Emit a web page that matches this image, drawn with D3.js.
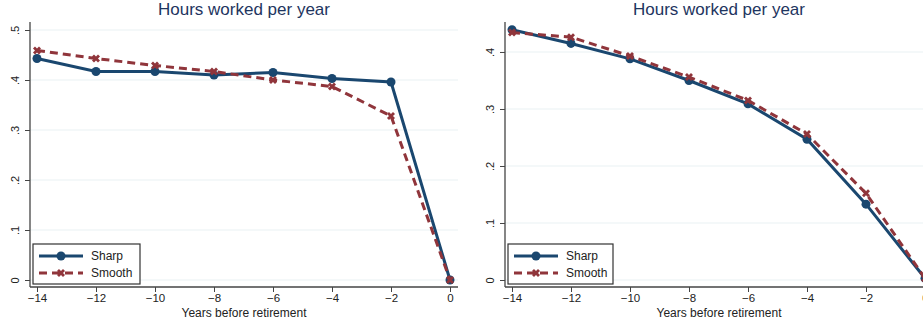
<!DOCTYPE html>
<html>
<head>
<meta charset="utf-8">
<script src="https://cdn.jsdelivr.net/npm/d3@7"></script>
<style>
  body { margin: 0; background: #fff; }
  svg { display: block; font-family: "Liberation Sans", Arial, sans-serif; }
</style>
</head>
<body>
<div id="chart"></div>
<script>
(function() {
    var width = 923,
        height = 324;

    var years = [-14, -12, -10, -8, -6, -4, -2, 0];
    var xTicks = [-14, -12, -10, -8, -6, -4, -2, 0];

    // left panel
    var sharpLeft  = [0.443, 0.417, 0.417, 0.410, 0.415, 0.403, 0.396, 0.0];
    var smoothLeft = [0.459, 0.443, 0.429, 0.417, 0.400, 0.387, 0.328, 0.0];
    var yTicksLeft = [0, 0.1, 0.2, 0.3, 0.4, 0.5];

    // right panel
    var sharpRight  = [0.439, 0.415, 0.388, 0.350, 0.309, 0.247, 0.133, 0.003];
    var smoothRight = [0.434, 0.426, 0.393, 0.356, 0.315, 0.256, 0.152, 0.003];
    var yTicksRight = [0, 0.1, 0.2, 0.3, 0.4];

    var navy = "#1a476f",
        maroon = "#90353b";

    var svg = d3.select("#chart")
        .append("svg")
        .attr("width", width)
        .attr("height", height)

    function fmt(v) {
        if (v === 0) return "0"
        return d3.format(".1f")(v).replace(/^0/, "")
    }

    function panel(opts) {
        var g = svg.append("g")

        var x = d3.scaleLinear().domain([-14, 0]).range([opts.x0, opts.x0 + 413])
        var y = d3.scaleLinear().domain([0, opts.yTop]).range([280, opts.yTopPx])

        var axisX = opts.axisX,
            right = opts.axisX + 428,
            base = 287

        // gridlines
        g.selectAll(".grid")
            .data(opts.yTicks)
            .enter().append("line")
            .attr("x1", axisX).attr("x2", right)
            .attr("y1", function(d) { return y(d) })
            .attr("y2", function(d) { return y(d) })
            .attr("stroke", "#eaf2f3")
            .attr("stroke-width", 1.2)

        // y axis
        var yAxis = d3.axisLeft(y).tickValues(opts.yTicks).tickFormat(fmt).tickSize(5).tickPadding(4)
        var ya = g.append("g")
            .attr("transform", "translate(" + axisX + ",0)")
            .call(yAxis)
        ya.select(".domain").attr("d", "M0,22V" + base).attr("stroke", "#444").attr("stroke-width", 1.3)
        ya.selectAll(".tick line").attr("stroke", "#444")
        ya.selectAll(".tick text")
            .attr("font-size", 11)
            .attr("fill", "#222")
            .attr("transform", "rotate(-90)")
            .attr("text-anchor", "middle")
            .attr("x", 0)
            .attr("dy", 0)
            .attr("y", -11)

        // x axis
        var xAxis = d3.axisBottom(x).tickValues(xTicks).tickSize(5).tickPadding(2)
            .tickFormat(function(d) { return d < 0 ? "\u2212" + Math.abs(d) : d })
        var xa = g.append("g")
            .attr("transform", "translate(0," + base + ")")
            .call(xAxis)
        xa.select(".domain").attr("d", "M" + axisX + ",0H" + right).attr("stroke", "#444").attr("stroke-width", 1.3)
        xa.selectAll(".tick line").attr("stroke", "#444")
        xa.selectAll(".tick text").attr("font-size", 11.5).attr("fill", "#222")

        g.append("text")
            .attr("x", (axisX + right) / 2)
            .attr("y", 317)
            .attr("text-anchor", "middle")
            .attr("font-size", 12)
            .attr("fill", "#222")
            .text("Years before retirement")

        g.append("text")
            .attr("x", (axisX + right) / 2)
            .attr("y", 15)
            .attr("text-anchor", "middle")
            .attr("font-size", 17)
            .attr("fill", "#1e3560")
            .text("Hours worked per year")

        var line = d3.line()
            .x(function(d) { return x(d.year) })
            .y(function(d) { return y(d.v) })

        var sharp = years.map(function(yr, i) { return {year: yr, v: opts.sharp[i]} })
        var smooth = years.map(function(yr, i) { return {year: yr, v: opts.smooth[i]} })

        g.append("path")
            .datum(sharp)
            .attr("d", line)
            .attr("fill", "none")
            .attr("stroke", navy)
            .attr("stroke-width", 3)

        g.selectAll(".sharp")
            .data(sharp)
            .enter().append("circle")
            .attr("class", "sharp")
            .attr("cx", function(d) { return x(d.year) })
            .attr("cy", function(d) { return y(d.v) })
            .attr("r", 4.5)
            .attr("fill", navy)

        g.append("path")
            .datum(smooth)
            .attr("d", line)
            .attr("fill", "none")
            .attr("stroke", maroon)
            .attr("stroke-width", 3)
            .attr("stroke-dasharray", "8,5")

        var cross = d3.symbol().type(d3.symbolCross).size(40)
        g.selectAll(".smooth")
            .data(smooth)
            .enter().append("path")
            .attr("class", "smooth")
            .attr("d", cross)
            .attr("transform", function(d) {
                return "translate(" + x(d.year) + "," + y(d.v) + ") rotate(45)"
            })
            .attr("fill", maroon)

        // legend
        var lg = g.append("g").attr("transform", "translate(" + (axisX + 3) + ",244)")
        lg.append("rect")
            .attr("width", opts.legendW).attr("height", 40)
            .attr("fill", "#fff")
            .attr("stroke", "#333")
            .attr("stroke-width", 1.2)
        lg.append("line")
            .attr("x1", 6).attr("x2", 50).attr("y1", 12).attr("y2", 12)
            .attr("stroke", navy).attr("stroke-width", 3)
        lg.append("circle").attr("cx", 28).attr("cy", 12).attr("r", 4.5).attr("fill", navy)
        lg.append("line")
            .attr("x1", 6).attr("x2", 50).attr("y1", 29).attr("y2", 29)
            .attr("stroke", maroon).attr("stroke-width", 3)
            .attr("stroke-dasharray", "8,5")
        lg.append("path").attr("d", cross)
            .attr("transform", "translate(28,29) rotate(45)")
            .attr("fill", maroon)
        lg.append("text").attr("x", 58).attr("y", 16).attr("font-size", 12).attr("fill", "#222").text("Sharp")
        lg.append("text").attr("x", 58).attr("y", 33).attr("font-size", 12).attr("fill", "#222").text("Smooth")
    }

    panel({axisX: 30, x0: 37, yTop: 0.516, yTopPx: 22, yTicks: yTicksLeft,
           sharp: sharpLeft, smooth: smoothLeft, legendW: 107})
    panel({axisX: 505, x0: 512, yTop: 0.4526, yTopPx: 22, yTicks: yTicksRight,
           sharp: sharpRight, smooth: smoothRight, legendW: 105})
})();
</script>
</body>
</html>
